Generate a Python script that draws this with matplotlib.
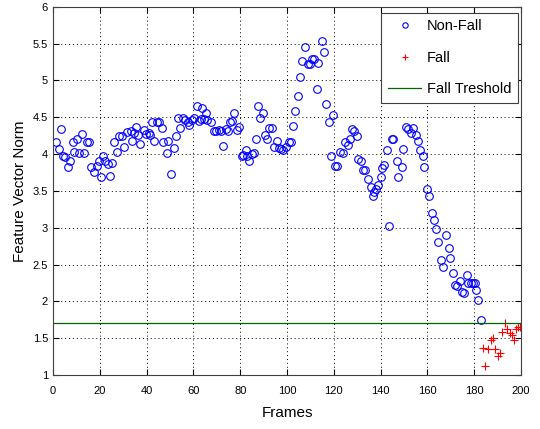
import matplotlib
matplotlib.use('Agg')
import matplotlib.pyplot as plt

plt.rcParams['font.family'] = ['Liberation Sans', 'DejaVu Sans']

# non-fall samples (frame, feature vector norm)
nonfall_frames = [
    1.3, 2.6, 3.3, 4.4, 5.1, 6.5, 7.3, 8.4, 9.1, 10.4, 11.2, 12.4, 13.1, 14.4,
    15.2, 16.4, 17.5, 18.7, 19.8, 20.4, 21.5, 22.2, 23.6, 24.4, 25.4, 26.2,
    27.5, 28.3, 29.5, 30.3, 31.8, 33.3, 33.8, 34.8, 35.3, 36.5, 37.3, 39.0,
    39.6, 41.0, 41.6, 42.4, 43.3, 44.4, 45.3, 46.5, 47.1, 48.6, 49.3, 50.4,
    51.8, 52.4, 53.6, 54.4, 55.7, 56.4, 57.5, 58.1, 59.3, 60.4, 61.5, 62.4,
    63.2, 63.8, 64.5, 65.4, 66.0, 67.4, 68.8, 69.7, 70.8, 71.7, 72.5, 73.9,
    74.8, 75.6, 76.5, 77.4, 78.8, 79.6, 80.6, 81.3, 82.5, 83.0, 83.9, 84.9,
    85.9, 86.8, 87.7, 88.5, 89.6, 90.6, 91.6, 92.4, 93.5, 94.4, 95.6, 96.6,
    97.4, 98.4, 99.4, 100.9, 101.7, 102.7, 103.4, 104.6, 105.6, 106.5, 107.7,
    108.8, 109.7, 110.8, 111.7, 112.7, 113.4, 114.8, 115.7, 116.7, 118.0,
    118.8, 119.8, 120.5, 121.4, 122.6, 124.0, 124.8, 125.9, 126.9, 127.6,
    128.6, 129.8, 130.5, 131.5, 132.4, 133.3, 134.7, 135.8, 136.6, 137.2,
    138.0, 139.0, 140.0, 140.7, 141.5, 142.9, 143.7, 144.7, 145.4, 146.9,
    147.6, 149.0, 149.4, 150.9, 151.8, 152.9, 154.0, 155.1, 156.1, 156.8,
    158.0, 158.5, 160.0, 160.6, 161.8, 162.7, 163.8, 164.7, 165.8, 166.7,
    167.8, 169.0, 169.7, 171.0, 171.8, 172.6, 173.8, 174.7, 175.6, 176.9,
    177.5, 178.6, 179.6, 180.3, 180.8, 181.8, 182.9]
nonfall_norm = [
    4.16, 4.07, 4.34, 3.98, 3.96, 3.83, 3.90, 4.16, 4.03, 4.21, 4.01, 4.27,
    4.01, 4.16, 4.16, 3.82, 3.76, 3.84, 3.91, 3.69, 3.98, 3.91, 3.87, 3.70,
    3.88, 4.16, 4.03, 4.25, 4.24, 4.09, 4.30, 4.31, 4.18, 4.28, 4.37, 4.26,
    4.14, 4.33, 4.27, 4.28, 4.26, 4.44, 4.18, 4.44, 4.43, 4.35, 4.17, 4.02,
    4.18, 3.73, 4.08, 4.24, 4.49, 4.35, 4.49, 4.46, 4.44, 4.40, 4.46, 4.49,
    4.65, 4.45, 4.47, 4.62, 4.47, 4.56, 4.46, 4.44, 4.32, 4.32, 4.33, 4.32,
    4.11, 4.34, 4.32, 4.43, 4.45, 4.56, 4.33, 4.37, 3.98, 3.99, 4.05, 3.97,
    3.91, 4.00, 4.01, 4.21, 4.65, 4.49, 4.56, 4.26, 4.20, 4.35, 4.35, 4.10,
    4.18, 4.08, 4.07, 4.05, 4.10, 4.17, 4.16, 4.38, 4.59, 4.79, 5.05, 5.26,
    5.45, 5.23, 5.22, 5.29, 5.29, 4.88, 5.24, 5.54, 5.39, 4.68, 4.43, 3.97,
    4.53, 3.84, 3.84, 4.03, 4.02, 4.17, 4.12, 4.20, 4.34, 4.32, 4.25, 3.94,
    3.91, 3.79, 3.78, 3.66, 3.55, 3.43, 3.48, 3.52, 3.58, 3.69, 3.81, 3.85,
    4.05, 3.02, 4.20, 4.21, 3.90, 3.69, 3.82, 4.07, 4.37, 4.34, 4.29, 4.35,
    4.26, 4.18, 4.05, 3.98, 3.83, 3.52, 3.43, 3.20, 3.10, 2.98, 2.80, 2.56,
    2.47, 2.90, 2.72, 2.59, 2.39, 2.22, 2.21, 2.27, 2.13, 2.11, 2.36, 2.25,
    2.25, 2.25, 2.25, 2.15, 2.02, 1.75]

fall_frames = [183.9, 184.6, 186.0, 187.2, 188.0, 188.9, 190.0, 190.9, 191.7,
               193.2, 194.0, 195.3, 196.3, 196.9, 197.7, 198.6, 199.4, 200.0]
fall_norm = [1.36, 1.12, 1.35, 1.48, 1.50, 1.35, 1.26, 1.30, 1.59,
             1.71, 1.62, 1.57, 1.54, 1.48, 1.63, 1.65, 1.65, 1.65]

threshold = 1.7

fig = plt.figure(figsize=(5.4, 4.29), dpi=100)
ax = fig.add_axes([0.098, 0.126, 0.867, 0.858])

ax.plot(nonfall_frames, nonfall_norm, 'o', color='blue', mfc='none',
        ms=5.5, mew=0.8, label='Non-Fall')
ax.plot(fall_frames, fall_norm, '+', color='red', ms=6, mew=0.8,
        label='Fall')
ax.axhline(threshold, color='#006400', lw=0.9, label='Fall Treshold')

ax.set_xlim(0, 200)
ax.set_ylim(1, 6)
ax.set_xticks(range(0, 201, 20))
ax.set_yticks([1, 1.5, 2, 2.5, 3, 3.5, 4, 4.5, 5, 5.5, 6])
ax.set_yticklabels(['1', '1.5', '2', '2.5', '3', '3.5', '4', '4.5', '5',
                    '5.5', '6'])
ax.tick_params(direction='in', top=True, right=True, labelsize=8, length=4)
ax.tick_params(axis='x', pad=8)
ax.grid(True, linestyle=(0, (1, 3)), color='black', lw=0.7)
for s in ax.spines.values():
    s.set_color('#404040')

ax.set_xlabel('Frames', fontsize=11, labelpad=7)
ax.set_ylabel('Feature Vector Norm', fontsize=11)

leg = ax.legend(loc='upper right', bbox_to_anchor=(0.994, 0.984),
                borderaxespad=0, fontsize=10.5, fancybox=False,
                framealpha=1, edgecolor='#404040', handlelength=2.3,
                handletextpad=0.4, borderpad=0.45, labelspacing=1.2,
                markerscale=0.7)
leg.get_frame().set_linewidth(0.8)

fig.savefig('out.png', dpi=100)
